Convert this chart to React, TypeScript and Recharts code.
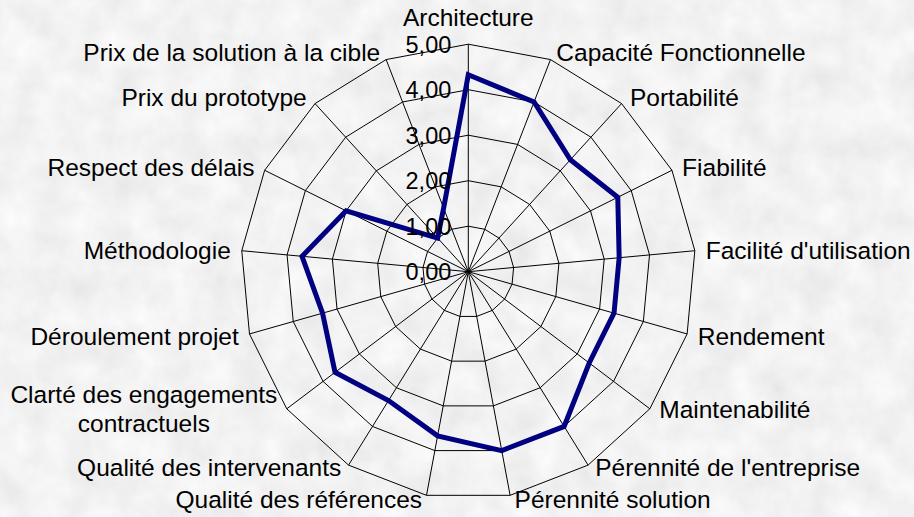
import React from "react";
import { RadarChart, Radar, PolarGrid, PolarAngleAxis, PolarRadiusAxis } from "recharts";

const categories = [
  "Architecture",
  "Capacité Fonctionnelle",
  "Portabilité",
  "Fiabilité",
  "Facilité d'utilisation",
  "Rendement",
  "Maintenabilité",
  "Pérennité de l'entreprise",
  "Pérennité solution",
  "Qualité des références",
  "Qualité des intervenants",
  "Clarté des engagements contractuels",
  "Déroulement projet",
  "Méthodologie",
  "Respect des délais",
  "Prix du prototype",
  "Prix de la solution à la cible",
];

const scores = [4.33, 4, 3.33, 3.67, 3.33, 3.33, 3.33, 4, 4, 3.67, 3.33, 3.67, 3.33, 3.67, 3, 1, 1.5];

const radiusTicks = [0, 1, 2, 3, 4, 5];

const data = categories.map((c, i) => ({ category: c, score: scores[i] }));

const W = 914;
const H = 517;
const CX = 468.3;
const CY = 271.7;
const R = 227.5;
const FONT = "'Liberation Sans', Arial, sans-serif";
const LABEL_SIZE = 24.5;
const TICK_SIZE = 23.5;

let ctx: CanvasRenderingContext2D | null = null;
function measure(text: string): number {
  if (!ctx) {
    const c = document.createElement("canvas");
    ctx = c.getContext("2d");
  }
  if (!ctx) return text.length * LABEL_SIZE * 0.5;
  ctx.font = `${LABEL_SIZE}px ${FONT}`;
  return ctx.measureText(text).width;
}

function AngleTick(props: any) {
  const { payload } = props;
  const text: string = payload.value;
  const idx = categories.indexOf(text);
  const theta = (idx * 2 * Math.PI) / categories.length;
  const s = Math.sin(theta);
  const c = Math.cos(theta);
  const r = R + 8;
  const px = CX + r * s;
  const py = CY - r * c;
  let lines = [text];
  if (text.length > 32) {
    const k = text.lastIndexOf(" ");
    lines = [text.slice(0, k), text.slice(k + 1)];
  }
  const lh = 29;
  let yc = py;
  if (c < -0.5) yc -= 4.5;
  if (Math.abs(s) < 0.05) {
    return (
      <text x={px} y={py - 19} dy="0.36em" textAnchor="middle" fontSize={LABEL_SIZE} fontFamily={FONT} fill="#000">
        {text}
      </text>
    );
  }
  const anchorRight = s > 0;
  const edge = anchorRight ? px + 3 : px - 3;
  if (lines.length === 1) {
    return (
      <text x={edge} y={yc} dy="0.36em" textAnchor={anchorRight ? "start" : "end"} fontSize={LABEL_SIZE} fontFamily={FONT} fill="#000">
        {text}
      </text>
    );
  }
  const wMax = Math.max(...lines.map(measure));
  const center = anchorRight ? edge + wMax / 2 : edge - wMax / 2;
  const top = yc - ((lines.length - 1) * lh) / 2;
  return (
    <text textAnchor="middle" fontSize={LABEL_SIZE} fontFamily={FONT} fill="#000">
      {lines.map((l, i) => (
        <tspan key={i} x={center} y={top + i * lh} dy="0.36em">
          {l}
        </tspan>
      ))}
    </text>
  );
}

function RadiusTick(props: any) {
  const { x, y, payload } = props;
  const label = Number(payload.value).toFixed(2).replace(".", ",");
  return (
    <text x={x - 17} y={y} dy="0.36em" textAnchor="end" fontSize={TICK_SIZE} fontFamily={FONT} fill="#000">
      {label}
    </text>
  );
}

export default function App() {
  return (
    <div style={{ position: "absolute", left: 0, top: 0, width: W, height: H, overflow: "hidden" }}>
      <svg width={W} height={H} style={{ position: "absolute", left: 0, top: 0 }}>
        <defs>
          <filter id="marble" x="0" y="0" width="100%" height="100%">
            <feTurbulence type="fractalNoise" baseFrequency="0.03" numOctaves={4} seed={3} result="n" />
            <feColorMatrix
              in="n"
              type="matrix"
              values="0.2 0 0 0 0.79  0.2 0 0 0 0.79  0.2 0 0 0 0.79  0 0 0 0 1"
            />
          </filter>
        </defs>
        <rect x={0} y={0} width={W} height={H} fill="#e2e2e2" />
        <rect x={0} y={0} width={W} height={H} filter="url(#marble)" />
      </svg>
      <div style={{ position: "absolute", left: 0, top: 0 }}>
        <RadarChart
          width={W}
          height={H}
          data={data}
          cx={CX}
          cy={CY}
          outerRadius={R}
          margin={{ top: 0, right: 0, bottom: 0, left: 0 }}
          startAngle={90}
          endAngle={-270}
        >
          <PolarGrid gridType="polygon" stroke="#000" strokeWidth={1} strokeOpacity={1} />
          <PolarAngleAxis dataKey="category" tick={<AngleTick />} tickLine={false} axisLine={false} />
          <Radar
            dataKey="score"
            stroke="#000080"
            strokeWidth={5}
            fill="none"
            fillOpacity={0}
            dot={false}
            isAnimationActive={false}
          />
          <PolarRadiusAxis
            angle={90}
            domain={[0, 5]}
            ticks={radiusTicks as any}
            tickCount={6}
            axisLine={false}
            tickLine={false}
            tick={<RadiusTick />}
          />
        </RadarChart>
      </div>
    </div>
  );
}
